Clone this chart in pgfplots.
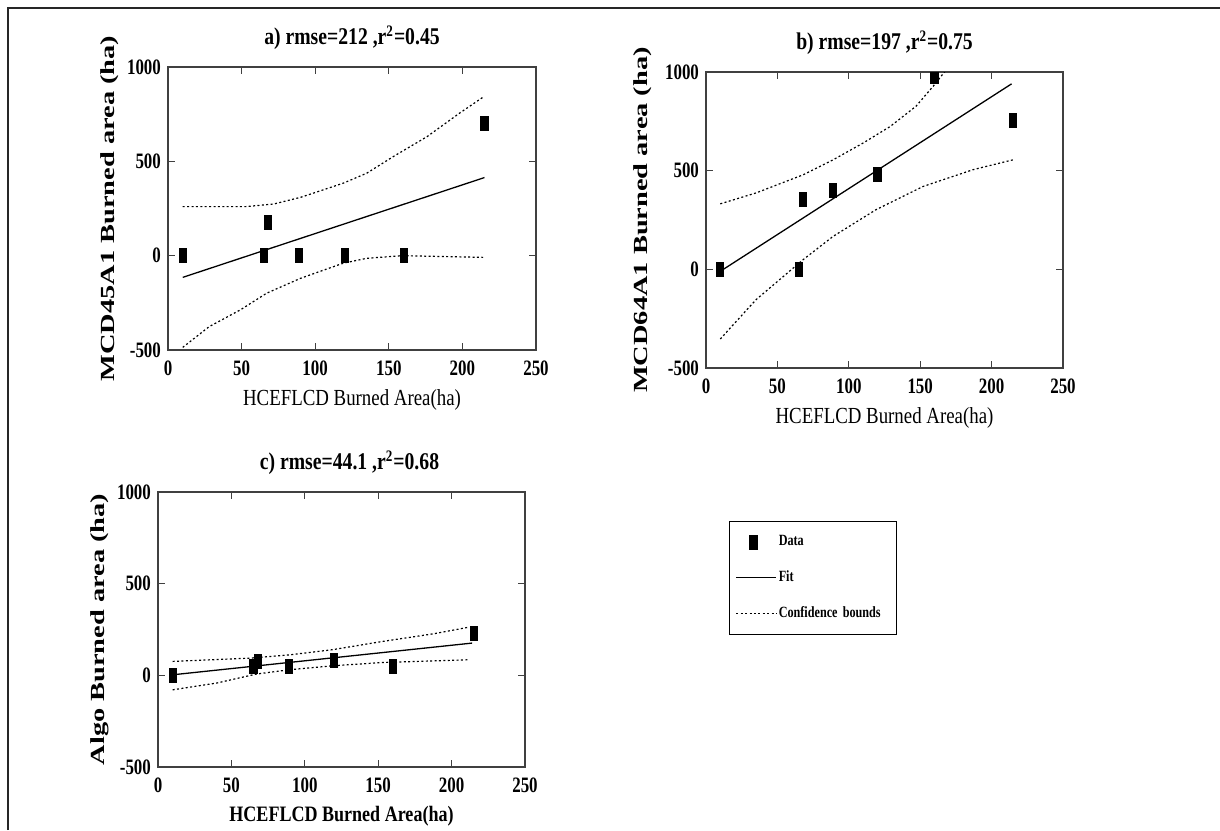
\documentclass[border=0pt]{standalone}
\usepackage{fontspec}
\setmainfont{Liberation Serif}[FakeStretch=0.82]
\newfontfamily\tickfont{Liberation Serif}[FakeStretch=0.77]
\newfontfamily\legfont{Liberation Serif}[FakeStretch=0.78]
\newfontfamily\ylabfont{Liberation Serif}[FakeStretch=1.42]
\usepackage{pgfplots}
\pgfplotsset{compat=1.18}

\pgfplotsset{
  panel/.style={
    scale only axis,
    xmin=0, xmax=250, ymin=-500, ymax=1000,
    xtick={0,50,100,150,200,250}, ytick={-500,0,500,1000},
    xticklabels={0,50,100,150,200,250},
    yticklabels={-500,0,500,1000},
    tick align=inside,
    major tick length=3.5pt,
    axis line style={black!75, line width=0.7pt},
    every tick/.style={black!75, line width=0.6pt},
    tick label style={font=\tickfont\bfseries\fontsize{11}{11}\selectfont, text=black},
    xticklabel style={yshift=-2pt},
    title style={font=\bfseries\fontsize{12}{14}\selectfont, yshift=-1pt},
    xlabel style={font=\fontsize{11.5}{13}\selectfont},
    ylabel style={font=\ylabfont\bfseries\fontsize{10}{12}\selectfont},
    clip marker paths=true,
  },
  datap/.style={only marks, mark=square*, mark size=2pt,
    mark options={xscale=0.9, yscale=1.75, fill=black, draw=black}},
  fitl/.style={black, line width=0.65pt, mark=none},
  confl/.style={black, line width=0.6pt, dash pattern=on 1pt off 1.2pt, mark=none},
  longline/.style={legend image code/.code={\draw[##1] (0cm,0cm) -- (0.7cm,0cm);}},
}

\begin{document}
\begin{tikzpicture}
\path[use as bounding box] (0,0) rectangle (610pt,-415pt);
\draw[black!85, line width=1pt] (4pt,-415pt) -- (4pt,-4pt) -- (610pt,-4pt);

% a) MCD45A1
\begin{axis}[panel, at={(84pt,-175pt)}, anchor=south west,
  width=184pt, height=141.5pt,
  title={a) rmse=212 ,r\textsuperscript{2}=0.45},
  xlabel={HCEFLCD Burned Area(ha)},
  ylabel={MCD45A1 Burned area (ha)}, ylabel shift=-2.5pt]
\addplot[datap] coordinates {(10,0) (65,0) (68,175) (89,0) (120,0) (160,0) (215,702)};
\addplot[fitl] coordinates {(10,-115) (215,414)};
\addplot[confl] coordinates {(10,260) (30,260) (53,260) (72,274) (90,309) (119,384)
  (135,437) (153,525) (176,631) (198,755) (214,840)};
\addplot[confl] coordinates {(10,-486) (28,-376) (49,-288) (67,-199) (90,-120)
  (119,-40) (135,-14) (159,0) (214,-9)};
\end{axis}

% b) MCD64A1
\begin{axis}[panel, at={(353pt,-184pt)}, anchor=south west,
  width=178.5pt, height=148pt,
  title={b) rmse=197 ,r\textsuperscript{2}=0.75},
  xlabel={HCEFLCD Burned Area(ha)},
  ylabel={MCD64A1 Burned area (ha)}]
\addplot[datap] coordinates {(10,0) (65,0) (68,355) (89,400) (120,480) (160,980) (215,755)};
\addplot[fitl] coordinates {(10,-10) (214,940)};
\addplot[confl] coordinates {(10,332) (35,387) (68,479) (89,555) (110,640)
  (129,724) (147,826) (159,927) (167,1000) (172,1040)};
\addplot[confl] coordinates {(10,-353) (35,-154) (68,49) (89,167) (119,302)
  (152,420) (187,505) (215,555)};
\end{axis}

% c) Algo
\begin{axis}[panel, at={(79pt,-383.5pt)}, anchor=south west,
  width=183.5pt, height=137.5pt,
  title={c) rmse=44.1 ,r\textsuperscript{2}=0.68},
  title style={xshift=4pt},
  xlabel={HCEFLCD Burned Area(ha)},
  xlabel style={font=\bfseries\fontsize{11}{13}\selectfont},
  ylabel={Algo Burned area (ha)}, ylabel shift=-3pt,
  legend style={at={(1.556,0.8945)}, anchor=north west, draw=black,
    line width=0.6pt, inner xsep=3pt, inner ysep=6pt, row sep=9pt,
    font=\legfont\bfseries\fontsize{7.8}{9}\selectfont,
    nodes={inner sep=1pt, text width=55pt}},
  legend cell align=left]
\addplot[datap] coordinates {(10,0) (65,50) (68,75) (89,50) (120,80) (160,50) (215,230)};
\addlegendentry{Data}
\addplot[fitl, longline] coordinates {(10,3) (214,176)};
\addlegendentry{Fit}
\addplot[confl, longline]
  coordinates {(10,76) (63,94) (90,112) (119,140) (153,185) (188,227) (212,263)};
\addlegendentry{Confidence bounds}
\addplot[confl, forget plot] coordinates {(10,-79) (40,-42) (67,7) (90,31) (119,52)
  (153,70) (212,85)};
\end{axis}
\end{tikzpicture}
\end{document}
